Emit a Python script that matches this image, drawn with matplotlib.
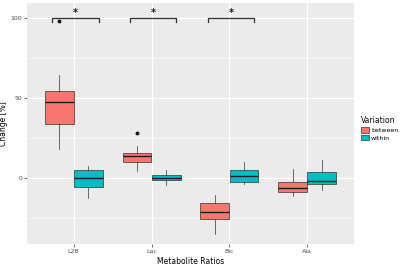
import matplotlib
matplotlib.use("Agg")
import matplotlib.pyplot as plt
from matplotlib.patches import Patch

# metabolite ratios on x, two variation groups
categories = ["L2B", "Lac", "Bic", "Ala"]
groups = ["between", "within"]
colors = ["#F8766D", "#00BFC4"]

# box stats (per group, per category)
q1 = {"between": [33.4, 10.0, -26.2, -9.1], "within": [-6.2, -1.6, -2.7, -4.1]}
med = {"between": [47.1, 13.4, -21.6, -6.4], "within": [0.0, 0.0, 0.9, -2.3]}
q3 = {"between": [54.2, 15.2, -15.8, -2.9], "within": [4.8, 1.5, 4.6, 3.4]}
wlo = {"between": [17.9, 4.4, -35.0, -11.4], "within": [-12.5, -4.8, -3.9, -8.1]}
whi = {"between": [64.2, 20.0, -11.0, 5.2], "within": [7.5, 5.0, 9.6, 11.0]}
outl = {"between": [[97.7], [28.1], [], []], "within": [[], [], [], []]}

# significance brackets over these categories
sig_cats = ["L2B", "Lac", "Bic"]
sig_y = 100
sig_label = "*"

fig = plt.figure(figsize=(4, 2.66), dpi=100)
ax = fig.add_axes([0.0675, 0.083, 0.8175, 0.905])
ax.set_facecolor("#EBEBEB")
for s in ax.spines.values():
    s.set_visible(False)

dodge = 0.1875
width = 0.37
for gi, g in enumerate(groups):
    stats = []
    for ci in range(len(categories)):
        stats.append(dict(med=med[g][ci], q1=q1[g][ci], q3=q3[g][ci],
                          whislo=wlo[g][ci], whishi=whi[g][ci],
                          fliers=outl[g][ci]))
    pos = [i + (gi * 2 - 1) * dodge for i in range(len(categories))]
    ax.bxp(stats, positions=pos, widths=width, patch_artist=True,
           showcaps=False,
           boxprops=dict(facecolor=colors[gi], edgecolor="#333333", linewidth=0.5),
           medianprops=dict(color="#1a1a1a", linewidth=1.0),
           whiskerprops=dict(color="#333333", linewidth=0.5),
           flierprops=dict(marker="o", markersize=1.8, markerfacecolor="#1a1a1a",
                           markeredgecolor="#1a1a1a"),
           zorder=3)

# brackets
for c in sig_cats:
    i = categories.index(c)
    x0, x1 = i - 0.28, i + 0.32
    ax.plot([x0, x0, x1, x1], [sig_y - 2.5, sig_y, sig_y, sig_y - 2.5],
            color="#333333", lw=0.9, zorder=4)
    ax.text(i + 0.02, sig_y - 0.5, sig_label, ha="center", va="bottom",
            fontsize=7, fontweight="bold", color="#1a1a1a", zorder=4)

ax.set_xlim(-0.6, len(categories) - 0.4)
ax.set_ylim(-41.5, 109)
ax.set_xticks(range(len(categories)))
ax.set_xticklabels(categories)
ax.set_yticks([0, 50, 100])
ax.set_yticks([-25, 25, 75], minor=True)
ax.grid(which="major", color="white", linewidth=0.8, zorder=0)
ax.grid(which="minor", axis="y", color="white", linewidth=0.4, zorder=0)
ax.set_axisbelow(True)
ax.tick_params(which="major", length=2, width=0.5, color="#333333",
               labelsize=4.5, labelcolor="#4D4D4D", pad=1.5)
ax.tick_params(which="minor", length=0)
ax.set_xlabel("Metabolite Ratios", fontsize=5.5, labelpad=2)
ax.set_ylabel("Change [%]", fontsize=5.5, labelpad=2)

handles = [Patch(facecolor=colors[i], edgecolor="#333333", linewidth=0.5)
           for i in range(len(groups))]
leg = fig.legend(handles, groups, title="Variation", loc="upper left",
                 bbox_to_anchor=(0.895, 0.575), frameon=False, fontsize=4.5,
                 title_fontsize=5.5, handlelength=1.3, handleheight=1.0,
                 handletextpad=0.3, labelspacing=0.3, borderpad=0)
leg._legend_box.align = "left"

fig.savefig("out.png", dpi=100)
